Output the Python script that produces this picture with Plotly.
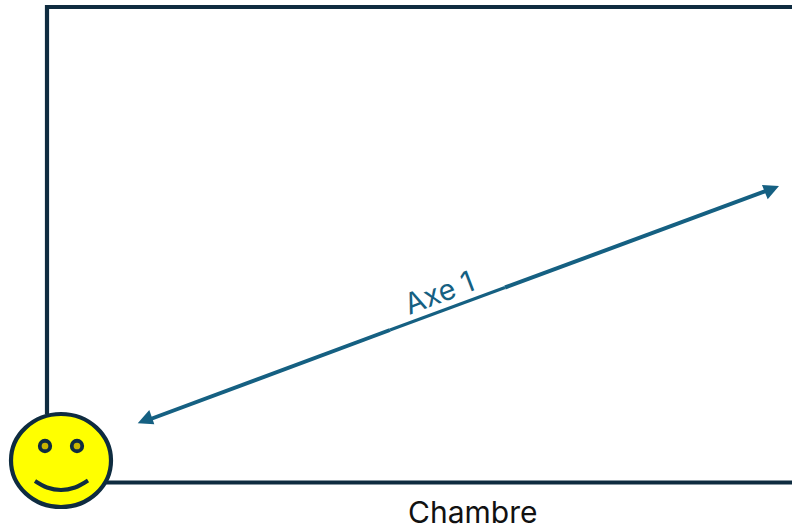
import plotly.graph_objects as go

wall_left_x = [47, 47, 792]
wall_left_y = [414, 7, 7]
wall_bottom_x = [105, 792]
wall_bottom_y = [482.5, 482.5]
axis_a_x = [505, 770]
axis_a_y = [287.5, 189.5]
axis_b_x = [390, 148]
axis_b_y = [330, 420]
axis_mid_x = [390, 505]
axis_mid_y = [330, 287.5]
head_a_x = [779, 762, 767.7]
head_a_y = [186, 185, 199.3]
head_b_x = [137.7, 149.3, 154.3]
head_b_y = [423.3, 410, 424.3]
face_x = [11, 111]
face_y = [414, 507]
eye_x = [45, 77]
eye_y = [446, 446]
smile_x = [35, 47, 61, 75, 88]
smile_y = [481, 487.5, 490, 487.5, 480.5]
room_label = "Chambre"
axis_label = "Axe 1"

DARK = "#0f2c40"
BLUE = "#156082"


def path(xs, ys):
    return "M" + "L".join(f"{x},{y}" for x, y in zip(xs, ys))


fig = go.Figure()
fig.add_shape(type="path", path=path(wall_left_x, wall_left_y), xref="x", yref="y",
              layer="below", line=dict(color=DARK, width=4.2))
fig.add_shape(type="path", path=path(wall_bottom_x, wall_bottom_y), xref="x", yref="y",
              layer="below", line=dict(color=DARK, width=4.2))
fig.add_shape(type="circle", x0=face_x[0], x1=face_x[1], y0=face_y[0], y1=face_y[1],
              xref="x", yref="y", layer="below", fillcolor="#ffff00",
              line=dict(color=DARK, width=4.2))
for xs, ys, w in ((axis_a_x, axis_a_y, 4), (axis_b_x, axis_b_y, 4), (axis_mid_x, axis_mid_y, 3.2)):
    fig.add_trace(go.Scatter(x=xs, y=ys, mode="lines", line=dict(color=BLUE, width=w)))
for xs, ys in ((head_a_x, head_a_y), (head_b_x, head_b_y)):
    fig.add_trace(go.Scatter(x=xs, y=ys, mode="lines", fill="toself", fillcolor=BLUE,
                             line=dict(width=0, color=BLUE)))
fig.add_trace(go.Scatter(
    x=eye_x, y=eye_y, mode="markers",
    marker=dict(size=10.5, color="#c9b400", opacity=1, line=dict(color=DARK, width=3.8)),
))
fig.add_trace(go.Scatter(
    x=smile_x, y=smile_y, mode="lines",
    line=dict(color=DARK, width=4, shape="spline"),
))
fig.add_annotation(x=472, y=511.5, text=room_label, showarrow=False, height=26,
                   font=dict(family="Inter", size=30, color="#111111"))
fig.add_annotation(x=438.5, y=292, text=axis_label, showarrow=False, textangle=-21,
                   font=dict(family="Inter", size=29, color=BLUE))
fig.update_layout(
    width=792, height=526, margin=dict(l=0, r=0, t=0, b=0),
    paper_bgcolor="white", plot_bgcolor="white", showlegend=False,
    xaxis=dict(range=[0, 792], visible=False, fixedrange=True),
    yaxis=dict(range=[526, 0], visible=False, fixedrange=True),
)
fig.write_html("out.html", config=dict(displayModeBar=False),
               post_script="document.body.style.margin='0';")
